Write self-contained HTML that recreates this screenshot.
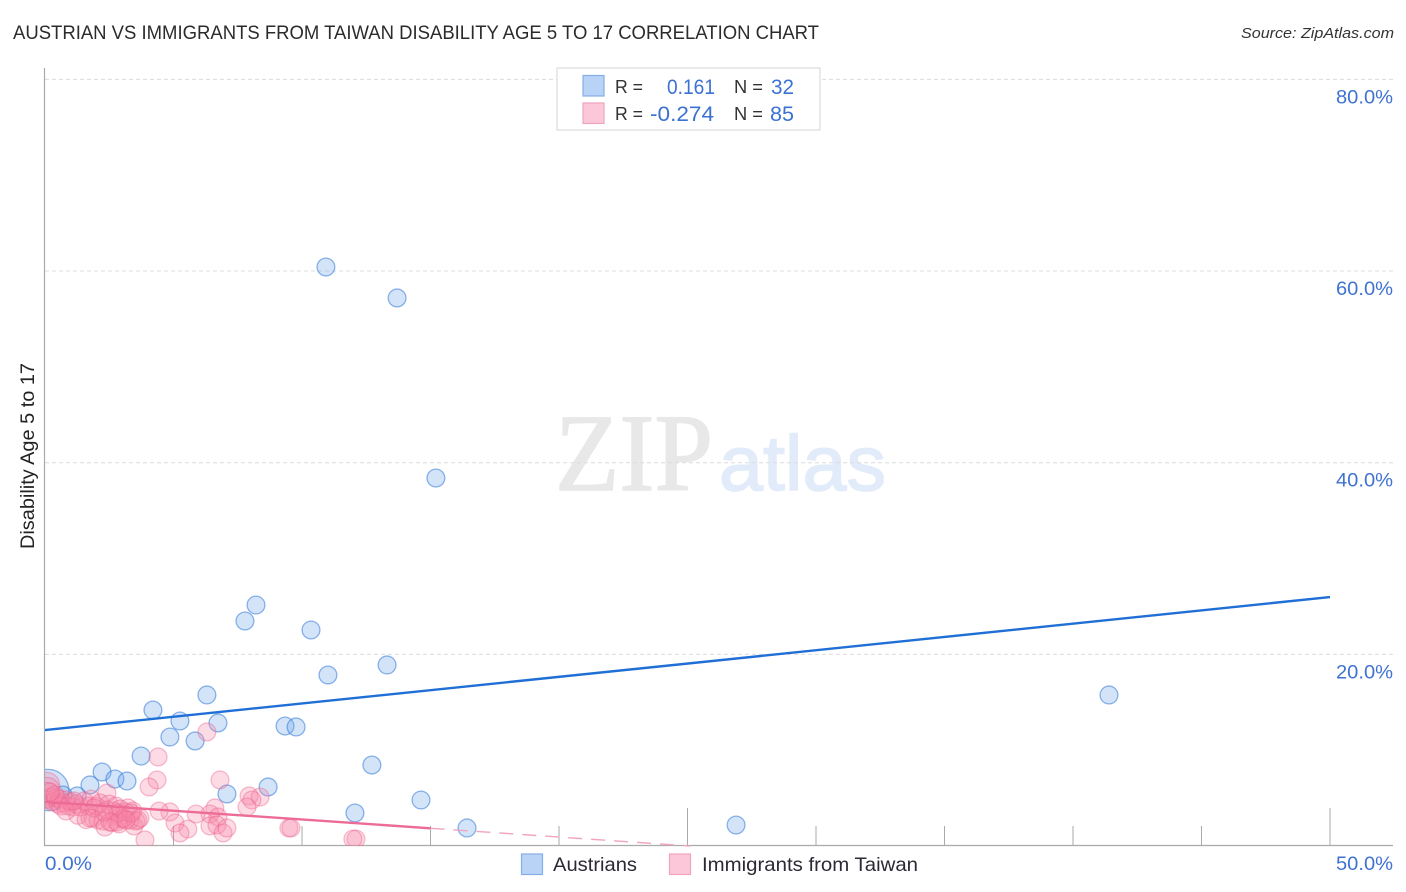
<!DOCTYPE html>
<html lang="en">
<head>
<meta charset="utf-8">
<title>Austrian vs Immigrants from Taiwan Disability Age 5 to 17 Correlation Chart</title>
<style>
html,body{margin:0;padding:0;background:#fff;width:1406px;height:892px;overflow:hidden}
svg{display:block}
text{font-family:"Liberation Sans",sans-serif}
</style>
</head>
<body>
<svg id="chart" width="1406" height="892" viewBox="0 0 1406 892" xmlns="http://www.w3.org/2000/svg">
  <defs>
    <clipPath id="plot-clip"><rect x="45" y="60" width="1360" height="786"></rect></clipPath>
  </defs>
  <text x="13" y="39" font-size="19" fill="#2b2b2b" textLength="806" lengthAdjust="spacingAndGlyphs">AUSTRIAN VS IMMIGRANTS FROM TAIWAN DISABILITY AGE 5 TO 17 CORRELATION CHART</text>
  <text x="1241" y="38" font-size="15" font-style="italic" fill="#333" textLength="153" lengthAdjust="spacingAndGlyphs">Source: ZipAtlas.com</text>

  <g>
    <text x="555" y="490" font-size="110" fill="#e8e8e8" stroke="#e8e8e8" stroke-width="1.5" textLength="158" lengthAdjust="spacingAndGlyphs" style="font-family:'Liberation Serif',serif">ZIP</text>
    <text x="719" y="490" font-size="78" fill="#e2ebf9" stroke="#e2ebf9" stroke-width="1.5" textLength="167" lengthAdjust="spacingAndGlyphs">atlas</text>
  </g>

  <g id="grid"></g>
  <g id="axes"></g>
  <g id="y-labels"></g>
  <g id="x-labels"></g>
  <text transform="translate(34 456) rotate(-90)" text-anchor="middle" font-size="19" fill="#222" textLength="186" lengthAdjust="spacingAndGlyphs">Disability Age 5 to 17</text>

  <g id="points-austrians" clip-path="url(#plot-clip)"></g>
  <g id="points-taiwan" clip-path="url(#plot-clip)"></g>
  <g id="trends"></g>

  <g>
    <rect x="557" y="68" width="263" height="62" fill="#fff" stroke="#ddd" stroke-width="1.2"></rect>
    <rect x="583" y="75.500" width="21" height="20.500" fill="#b9d3f7" stroke="#86aee6" stroke-width="1.2"></rect>
    <rect x="583" y="103" width="21" height="20.500" fill="#fcc8d9" stroke="#f0a5bd" stroke-width="1.2"></rect>
    <text x="615" y="93" font-size="18.500" fill="#333" textLength="28" lengthAdjust="spacingAndGlyphs">R =</text>
    <text x="667" y="94" font-size="21" fill="#3b72d3" textLength="48" lengthAdjust="spacingAndGlyphs">0.161</text>
    <text x="734" y="93" font-size="18.500" fill="#333" textLength="29" lengthAdjust="spacingAndGlyphs">N =</text>
    <text x="771" y="94" font-size="21" fill="#3b72d3" textLength="23" lengthAdjust="spacingAndGlyphs">32</text>
    <text x="615" y="120" font-size="18.500" fill="#333" textLength="28" lengthAdjust="spacingAndGlyphs">R =</text>
    <text x="650" y="121" font-size="21" fill="#3b72d3" textLength="64" lengthAdjust="spacingAndGlyphs">-0.274</text>
    <text x="734" y="120" font-size="18.500" fill="#333" textLength="29" lengthAdjust="spacingAndGlyphs">N =</text>
    <text x="770" y="121" font-size="21" fill="#3b72d3" textLength="24" lengthAdjust="spacingAndGlyphs">85</text>
  </g>

  <g>
    <rect x="521.500" y="854" width="21" height="20.500" fill="#b9d3f7" stroke="#86aee6" stroke-width="1.2"></rect>
    <text x="553" y="871" font-size="19.500" fill="#2a2a35" textLength="84" lengthAdjust="spacingAndGlyphs">Austrians</text>
    <rect x="669.500" y="854" width="21" height="20.500" fill="#fcc8d9" stroke="#f0a5bd" stroke-width="1.2"></rect>
    <text x="702" y="871" font-size="19.500" fill="#2a2a35" textLength="216" lengthAdjust="spacingAndGlyphs">Immigrants from Taiwan</text>
  </g>
</svg>
<script>
const yTickValues = [20, 40, 60, 80];
const yTickLabels = ["20.0%", "40.0%", "60.0%", "80.0%"];
const xTickValues = [5, 10, 15, 20, 25, 30, 35, 40, 45, 50];
const xMajorTicks = [25, 50];
const xEndValues = [0, 50];
const xEndLabels = ["0.0%", "50.0%"];

const austrianX = [10.93,13.70,15.21,8.21,7.78,10.35,11.01,13.31,41.40,6.30,4.20,5.25,6.73,4.86,5.84,9.34,9.77,3.74,2.22,1.75,2.72,3.19,12.72,8.68,7.08,14.63,12.06,16.42,26.89,1.25,0.12,0.70];
const austrianY = [60.42,57.19,38.40,25.15,23.48,22.54,17.84,18.89,15.76,15.76,14.19,13.04,12.84,11.37,10.96,12.52,12.42,9.39,7.72,6.37,6.99,6.78,8.45,6.16,5.43,4.80,3.44,1.88,2.19,5.22,5.84,5.32];
const austrianWeight = [1,1,1,1,1,1,1,1,1,1,1,1,1,1,1,1,1,1,1,1,1,1,1,1,1,1,1,1,1,1,5.4,1];

const taiwanX = [6.30,4.40,4.36,4.05,6.81,2.41,7.94,8.37,8.05,7.86,6.61,6.42,6.73,5.88,4.86,4.44,5.06,5.56,5.25,3.89,3.46,6.42,6.69,6.93,7.08,9.49,9.57,12.10,11.98,
  0.08,0.08,0.08,0.12,0.23,0.31,0.43,0.51,0.58,0.70,0.82,0.89,1.01,1.09,1.21,1.28,1.40,1.52,1.60,1.71,1.79,1.87,1.98,2.06,2.14,2.26,2.33,2.41,2.49,2.61,2.68,2.76,2.80,2.88,2.92,3.00,3.07,3.15,3.23,3.31,3.42,3.54,3.62,3.70,3.35,2.84,2.53,1.91,1.13,0.62,0.82,1.75,2.30,3.15,0.19,0.39];
const taiwanY = [11.90,9.29,6.89,6.16,6.89,5.53,5.22,5.11,4.80,4.07,3.97,3.34,3.03,3.34,3.55,3.65,2.40,1.77,1.36,0.63,2.09,2.09,2.19,1.36,1.88,1.88,1.88,0.73,0.73,
  6.37,5.84,5.32,4.80,5.11,4.59,5.01,4.38,4.90,4.49,4.80,4.17,4.59,4.07,4.38,3.20,4.07,4.70,2.75,4.17,4.90,2.90,4.17,2.71,4.49,2.60,1.98,3.76,4.38,2.45,3.65,4.17,2.50,2.30,3.86,2.82,2.90,3.55,3.97,2.70,3.65,2.60,2.71,2.92,3.44,3.44,2.50,3.97,4.70,4.17,3.65,2.92,3.55,2.71,5.64,5.32];
const taiwanWeight = [1,1,1,1,1,1,1,1,1,1,1,1,1,1,1,1,1,1,1,1,1,1,1,1,1,1,1,1,1,
  2,2,2,1,1,1,1,1,1,1,1,1,1,1,1,1,1,1,1,1,1,1,1,1,1,1,1,1,1,1,1,1,1,1,1,1,1,1,1,1,1,1,1,1,1,1,1,1,1,1,1,1,1,1,1,1];

const austrianTrendX = [0, 50];
const austrianTrendY = [12.1, 25.98];
const taiwanTrendSolidX = [0, 15];
const taiwanTrendSolidY = [4.6, 1.85];
const taiwanTrendDashX = [15, 25.1];
const taiwanTrendDashY = [1.85, 0];

const NS = "http://www.w3.org/2000/svg";
function xScale(v) { return 45 + v * 25.7; }
function yScale(v) { return 846 - v * 9.5825; }
function rScale(w) { return 8.9 * Math.sqrt(w); }

const grid = document.getElementById("grid");
const axes = document.getElementById("axes");
const yLabels = document.getElementById("y-labels");
const xLabels = document.getElementById("x-labels");
const trends = document.getElementById("trends");

yTickValues.forEach(function (v, i) {
  const g = document.createElementNS(NS, "line");
  
  
  g.setAttribute("x1", 45);
  g.setAttribute("x2", 1393);
  g.setAttribute("y1", yScale(v));
  g.setAttribute("y2", yScale(v));
  g.setAttribute("stroke", "#dcdcdc");
  g.setAttribute("stroke-width", 1);
  g.setAttribute("stroke-dasharray", "4 3");
  grid.appendChild(g);

  const t = document.createElementNS(NS, "text");
  
  
  t.setAttribute("x", 1336);
  t.setAttribute("y", yScale(v) + 24);
  t.setAttribute("font-size", 19);
  t.setAttribute("fill", "#3f72d2");
  t.setAttribute("textLength", 57);
  t.setAttribute("lengthAdjust", "spacingAndGlyphs");
  t.textContent = yTickLabels[i];
  yLabels.appendChild(t);
});

const yAxis = document.createElementNS(NS, "line");


yAxis.setAttribute("x1", 44.5);
yAxis.setAttribute("x2", 44.5);
yAxis.setAttribute("y1", 68);
yAxis.setAttribute("y2", 846);
yAxis.setAttribute("stroke", "#aaa");
yAxis.setAttribute("stroke-width", 1.2);
axes.appendChild(yAxis);

const xAxis = document.createElementNS(NS, "line");


xAxis.setAttribute("x1", 44);
xAxis.setAttribute("x2", 1393);
xAxis.setAttribute("y1", 845.5);
xAxis.setAttribute("y2", 845.5);
xAxis.setAttribute("stroke", "#aaa");
xAxis.setAttribute("stroke-width", 1.2);
axes.appendChild(xAxis);

xTickValues.forEach(function (v) {
  const tk = document.createElementNS(NS, "line");
  
  
  tk.setAttribute("x1", xScale(v));
  tk.setAttribute("x2", xScale(v));
  tk.setAttribute("y1", xMajorTicks.indexOf(v) >= 0 ? 808 : 826);
  tk.setAttribute("y2", 846);
  tk.setAttribute("stroke", "#aaa");
  tk.setAttribute("stroke-width", 1);
  axes.appendChild(tk);
});

xEndValues.forEach(function (v, i) {
  const t = document.createElementNS(NS, "text");
  
  
  t.setAttribute("x", i === 0 ? xScale(v) : xScale(v) + 6);
  t.setAttribute("y", 870);
  t.setAttribute("font-size", 19);
  t.setAttribute("fill", "#3f72d2");
  t.setAttribute("textLength", i === 0 ? 47 : 57);
  t.setAttribute("lengthAdjust", "spacingAndGlyphs");
  t.textContent = xEndLabels[i];
  xLabels.appendChild(t);
});

const groupA = document.getElementById("points-austrians");
austrianX.forEach(function (v, i) {
  const c = document.createElementNS(NS, "circle");
  
  
  c.setAttribute("cx", xScale(v));
  c.setAttribute("cy", yScale(austrianY[i]));
  c.setAttribute("r", rScale(austrianWeight[i]));
  c.setAttribute("fill", "rgba(110,165,235,0.30)");
  c.setAttribute("stroke", "rgba(50,120,215,0.55)");
  c.setAttribute("stroke-width", 1.3);
  groupA.appendChild(c);
});

const groupT = document.getElementById("points-taiwan");
taiwanX.forEach(function (v, i) {
  const c = document.createElementNS(NS, "circle");
  
  
  c.setAttribute("cx", xScale(v));
  c.setAttribute("cy", yScale(taiwanY[i]));
  c.setAttribute("r", rScale(taiwanWeight[i]));
  c.setAttribute("fill", "rgba(248,135,170,0.30)");
  c.setAttribute("stroke", "rgba(235,95,140,0.40)");
  c.setAttribute("stroke-width", 1.3);
  groupT.appendChild(c);
});

const dashLine = document.createElementNS(NS, "line");


dashLine.setAttribute("x1", xScale(taiwanTrendDashX[0]));
dashLine.setAttribute("y1", yScale(taiwanTrendDashY[0]));
dashLine.setAttribute("x2", xScale(taiwanTrendDashX[1]));
dashLine.setAttribute("y2", yScale(taiwanTrendDashY[1]));
dashLine.setAttribute("stroke", "#f2a3bd");
dashLine.setAttribute("stroke-width", 1.4);
dashLine.setAttribute("stroke-dasharray", "14 9");
trends.appendChild(dashLine);

const solidLine = document.createElementNS(NS, "line");


solidLine.setAttribute("x1", xScale(taiwanTrendSolidX[0]));
solidLine.setAttribute("y1", yScale(taiwanTrendSolidY[0]));
solidLine.setAttribute("x2", xScale(taiwanTrendSolidX[1]));
solidLine.setAttribute("y2", yScale(taiwanTrendSolidY[1]));
solidLine.setAttribute("stroke", "#ec6b97");
solidLine.setAttribute("stroke-width", 2.4);
trends.appendChild(solidLine);

const blueLine = document.createElementNS(NS, "line");


blueLine.setAttribute("x1", xScale(austrianTrendX[0]));
blueLine.setAttribute("y1", yScale(austrianTrendY[0]));
blueLine.setAttribute("x2", xScale(austrianTrendX[1]));
blueLine.setAttribute("y2", yScale(austrianTrendY[1]));
blueLine.setAttribute("stroke", "#1f6fd6");
blueLine.setAttribute("stroke-width", 2.4);
trends.appendChild(blueLine);
</script>
</body>
</html>
